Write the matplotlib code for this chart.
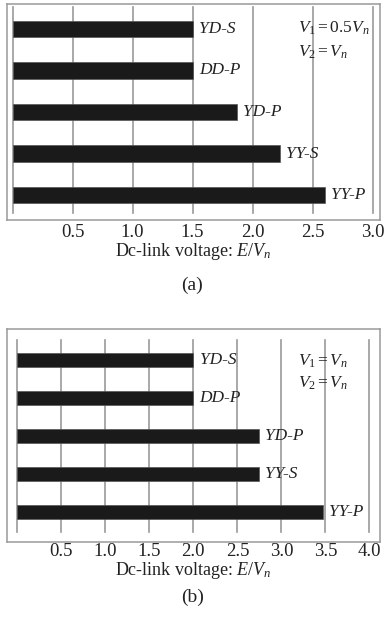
import matplotlib
matplotlib.use('Agg')
import matplotlib.pyplot as plt

# Data (top to bottom order in the chart)
configs = ['YD-S', 'DD-P', 'YD-P', 'YY-S', 'YY-P']
voltage_a = [1.5, 1.5, 1.87, 2.23, 2.60]   # V1 = 0.5Vn, V2 = Vn
voltage_b = [2.0, 2.0, 2.74, 2.74, 3.47]   # V1 = Vn, V2 = Vn
ticks_a = [0.0, 0.5, 1.0, 1.5, 2.0, 2.5, 3.0]
ticks_b = [0.0, 0.5, 1.0, 1.5, 2.0, 2.5, 3.0, 3.5, 4.0]
notes_a = [r'$V_1 = \mathit{0.5}V_n$', r'$V_2 = V_n$']
notes_b = [r'$V_1 = V_n$', r'$V_2 = V_n$']

plt.rcParams['font.family'] = ['Liberation Serif', 'DejaVu Serif']
plt.rcParams['mathtext.fontset'] = 'custom'
plt.rcParams['mathtext.rm'] = 'Liberation Serif'
plt.rcParams['mathtext.it'] = 'Liberation Serif:italic'

grey = '#9a9a9a'
ink = '#222222'

fig = plt.figure(figsize=(3.85, 6.37), dpi=100)


def draw_panel(rect, values, ticks, xlim, ylim, barh, grid_span, notes, note_y, tag, tag_y, tpad):
    ax = fig.add_axes(rect)
    ypos = list(range(len(configs) - 1, -1, -1))
    for t in ticks:
        ax.axvline(t, ymin=grid_span[0], ymax=grid_span[1], color=grey, lw=1.2, zorder=1)
    ax.barh(ypos, values, height=barh, color='#1a1a1a', edgecolor='#555555', lw=0.5, zorder=2)
    for y, v, name in zip(ypos, values, configs):
        ax.annotate(name, xy=(v, y), xytext=(4.5, 0), textcoords='offset points',
                    va='center', ha='left', fontsize=12.5, style='italic', color=ink)
    for txt, ny in zip(notes, note_y):
        ax.text(0.78, ny, txt, transform=ax.transAxes, fontsize=12.5, va='center', ha='left', color=ink)
    ax.set_xlim(*xlim)
    ax.set_ylim(*ylim)
    ax.set_yticks([])
    ax.set_xticks(ticks[1:])
    ax.set_xticklabels(['%.1f' % t for t in ticks[1:]])
    ax.tick_params(axis='x', length=0, pad=tpad, labelsize=13.5, labelcolor=ink)
    for s in ax.spines.values():
        s.set_color(grey)
        s.set_linewidth(1.1)
    ax.set_xlabel('Dc-link voltage: $E/V_n$', fontsize=13, color=ink, labelpad=0)
    fig.text(0.5, tag_y, tag, ha='center', va='center', fontsize=14, color=ink)
    return ax


draw_panel([7 / 385, (637 - 220) / 637, 373 / 385, 216 / 637], voltage_a, ticks_a,
           (-0.046, 3.0625), (-0.6, 4.6), 0.39, (0.032, 0.986),
           notes_a, [0.889, 0.778], '(a)', (637 - 285) / 637, 3)

draw_panel([7 / 385, (637 - 542) / 637, 373 / 385, 213 / 637], voltage_b, ticks_b,
           (-0.117, 4.12), (-0.79, 4.82), 0.37, (0.047, 0.948),
           notes_b, [0.85, 0.746], '(b)', (637 - 597) / 637, 1.0)

fig.savefig('out.png', dpi=100)
